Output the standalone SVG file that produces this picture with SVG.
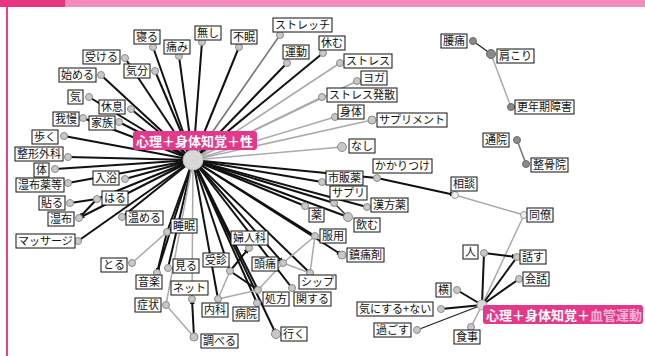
<svg xmlns="http://www.w3.org/2000/svg" width="645" height="356" viewBox="0 0 645 356">
<defs>
<marker id="ar" viewBox="0 0 6 6" refX="6" refY="3" markerWidth="2.6" markerHeight="2.6" orient="auto"><path d="M0,0 L6,3 L0,6 z" fill="#111"/></marker>
<style>
.k{stroke:#111;stroke-width:2;fill:none}
.kt{stroke:#222;stroke-width:1.3;fill:none}
.g{stroke:#aaa;stroke-width:1.5;fill:none}
.gd{stroke:#777;stroke-width:1.6;fill:none}
.c{fill:#c8c8c8;stroke:#8c8c8c;stroke-width:1}
.cd{fill:#8a8a8a;stroke:#6a6a6a;stroke-width:1}
.cw{fill:#eee;stroke:#999;stroke-width:1}
.b{fill:#fff;stroke:#111;stroke-width:1}
.t{font-family:"Noto Sans CJK JP","Noto Sans CJK SC",sans-serif;font-size:11px;fill:#111}
.h{font-family:"Noto Sans CJK JP","Noto Sans CJK SC",sans-serif;font-size:13px;font-weight:bold;fill:#fff}
</style>
</defs>
<rect x="0" y="0" width="645" height="356" fill="#fff"/>
<rect x="0" y="0" width="645" height="7" fill="#f28cbb"/>
<rect x="0" y="0" width="65" height="7" fill="#e8347f"/>
<rect x="6" y="7" width="2" height="349" fill="#e8408a"/>
<g id="connectors">
<line class="k" x1="193" y1="160" x2="153" y2="47"/>
<line class="k" x1="193" y1="160" x2="179" y2="56"/>
<line class="k" x1="193" y1="160" x2="202" y2="42"/>
<line class="k" x1="193" y1="160" x2="239" y2="47"/>
<line class="gd" x1="193" y1="160" x2="280" y2="35"/>
<line class="k" x1="193" y1="160" x2="287" y2="63"/>
<line class="k" x1="193" y1="160" x2="323" y2="53"/>
<line class="g" x1="193" y1="160" x2="340" y2="63"/>
<line class="g" x1="193" y1="160" x2="357" y2="81"/>
<line class="g" x1="193" y1="160" x2="322" y2="97"/>
<line class="g" x1="193" y1="160" x2="335" y2="117"/>
<line class="g" x1="193" y1="160" x2="372" y2="120"/>
<line class="g" x1="193" y1="160" x2="342" y2="147"/>
<line class="k" x1="193" y1="160" x2="125" y2="58"/>
<line class="k" x1="193" y1="160" x2="155" y2="71"/>
<line class="k" x1="193" y1="160" x2="101" y2="75"/>
<line class="k" x1="193" y1="160" x2="89" y2="97"/>
<line class="k" x1="193" y1="160" x2="131" y2="109"/>
<line class="k" x1="193" y1="160" x2="83" y2="118"/>
<line class="k" x1="193" y1="160" x2="119" y2="122"/>
<line class="k" x1="193" y1="160" x2="64" y2="136"/>
<line class="k" x1="193" y1="160" x2="68" y2="157"/>
<line class="k" x1="193" y1="160" x2="55" y2="169"/>
<line class="k" x1="193" y1="160" x2="68" y2="183"/>
<line class="k" x1="193" y1="160" x2="125" y2="179"/>
<line class="k" x1="193" y1="160" x2="97" y2="199"/>
<line class="k" x1="193" y1="160" x2="79" y2="218" marker-end="url(#ar)"/>
<line class="k" x1="193" y1="160" x2="122" y2="217"/>
<line class="k" x1="193" y1="160" x2="78" y2="241"/>
<line class="k" x1="193" y1="160" x2="167" y2="232"/>
<line class="k" x1="193" y1="160" x2="157" y2="273"/>
<line class="k" x1="193" y1="160" x2="168" y2="268"/>
<line class="g" x1="193" y1="160" x2="192" y2="299"/>
<line class="g" x1="193" y1="160" x2="166" y2="305"/>
<line class="k" x1="193" y1="160" x2="218" y2="299"/>
<line class="k" x1="193" y1="160" x2="257" y2="303"/>
<line class="k" x1="193" y1="160" x2="276" y2="334" marker-end="url(#ar)"/>
<line class="k" x1="193" y1="160" x2="258" y2="290"/>
<line class="k" x1="193" y1="160" x2="292" y2="288"/>
<line class="k" x1="193" y1="160" x2="283" y2="263" marker-end="url(#ar)"/>
<line class="k" x1="193" y1="160" x2="310" y2="273"/>
<line class="k" x1="193" y1="160" x2="230" y2="271"/>
<line class="k" x1="193" y1="160" x2="305" y2="206"/>
<line class="k" x1="193" y1="160" x2="342" y2="255" marker-end="url(#ar)"/>
<line class="k" x1="193" y1="160" x2="315" y2="236"/>
<line class="k" x1="193" y1="160" x2="348" y2="217"/>
<line class="k" x1="193" y1="160" x2="334" y2="203"/>
<line class="k" x1="193" y1="160" x2="367" y2="207"/>
<line class="k" x1="193" y1="160" x2="322" y2="182"/>
<line class="k" x1="193" y1="160" x2="377" y2="178"/>
<line class="k" x1="377" y1="178" x2="455" y2="195" marker-end="url(#ar)"/>
<line class="g" x1="455" y1="195" x2="524" y2="215"/>
<line class="g" x1="524" y1="215" x2="482" y2="305"/>
<line class="kt" x1="334" y1="203" x2="348" y2="217" marker-end="url(#ar)"/>
<line class="k" x1="70" y1="203" x2="97" y2="199"/>
<line class="k" x1="97" y1="199" x2="79" y2="218" marker-end="url(#ar)"/>
<line class="g" x1="132" y1="263" x2="167" y2="232"/>
<line class="k" x1="167" y1="232" x2="157" y2="273" marker-end="url(#ar)"/>
<line class="g" x1="166" y1="305" x2="194" y2="337"/>
<line class="k" x1="194" y1="337" x2="192" y2="299" marker-end="url(#ar)"/>
<line class="k" x1="230" y1="271" x2="249" y2="248" marker-end="url(#ar)"/>
<line class="g" x1="230" y1="271" x2="218" y2="299"/>
<line class="k" x1="230" y1="271" x2="258" y2="290" marker-end="url(#ar)"/>
<line class="g" x1="218" y1="299" x2="258" y2="290"/>
<line class="g" x1="258" y1="290" x2="283" y2="263"/>
<line class="g" x1="283" y1="263" x2="315" y2="236"/>
<line class="g" x1="283" y1="263" x2="310" y2="273"/>
<line class="g" x1="315" y1="236" x2="310" y2="273"/>
<line class="kt" x1="473" y1="41" x2="491" y2="54" marker-end="url(#ar)"/>
<line class="g" x1="491" y1="54" x2="511" y2="107"/>
<line class="gd" x1="517" y1="140" x2="526" y2="164"/>
<line class="k" x1="484" y1="253" x2="517" y2="257" marker-end="url(#ar)"/>
<line class="k" x1="484" y1="253" x2="482" y2="305" marker-end="url(#ar)"/>
<line class="k" x1="517" y1="257" x2="482" y2="305" marker-end="url(#ar)"/>
<line class="k" x1="519" y1="279" x2="482" y2="305" marker-end="url(#ar)"/>
<line class="k" x1="457" y1="290" x2="482" y2="305" marker-end="url(#ar)"/>
<line class="k" x1="441" y1="309" x2="482" y2="305" marker-end="url(#ar)"/>
<line class="kt" x1="417" y1="330" x2="482" y2="305"/>
<line class="g" x1="471" y1="327" x2="482" y2="305"/>
</g>
<g id="hub-sei"><circle cx="193" cy="160" r="10" fill="#d8d8d8" stroke="#bbb"/><rect x="133" y="131" width="124" height="19" rx="3" fill="#e5388a"/><text class="h" x="136" y="145.5">心理＋身体知覚＋性</text></g>
<g id="hub-kekkan"><circle cx="482" cy="305" r="5" fill="#d8d8d8" stroke="#aaa"/><rect x="483" y="305" width="160" height="19" rx="3" fill="#e5388a"/><text class="h" x="486" y="319.5">心理＋身体知覚＋<tspan fill="#f8b4d4">血管運動</tspan></text></g>
<g id="n1"><circle class="c" cx="153" cy="47" r="3.5"/><rect class="b" x="134" y="30" width="26" height="14"/><text class="t" x="136" y="41">寝る</text></g>
<g id="n2"><circle class="c" cx="179" cy="56" r="3.5"/><rect class="b" x="164" y="40" width="26" height="14"/><text class="t" x="166" y="51">痛み</text></g>
<g id="n3"><circle class="c" cx="202" cy="42" r="3.5"/><rect class="b" x="195" y="26" width="26" height="14"/><text class="t" x="197" y="37">無し</text></g>
<g id="n4"><circle class="c" cx="239" cy="47" r="3.5"/><rect class="b" x="231" y="30" width="26" height="14"/><text class="t" x="233" y="41">不眠</text></g>
<g id="n5"><circle class="c" cx="280" cy="35" r="3.5"/><rect class="b" x="273" y="18" width="59" height="14"/><text class="t" x="275" y="29">ストレッチ</text></g>
<g id="n6"><circle class="c" cx="287" cy="63" r="3.5"/><rect class="b" x="283" y="45" width="26" height="14"/><text class="t" x="285" y="56">運動</text></g>
<g id="n7"><circle class="c" cx="323" cy="53" r="3.5"/><rect class="b" x="319" y="36" width="26" height="14"/><text class="t" x="321" y="47">休む</text></g>
<g id="n8"><circle class="c" cx="340" cy="63" r="3.5"/><rect class="b" x="344" y="54" width="48" height="14"/><text class="t" x="346" y="65">ストレス</text></g>
<g id="n9"><circle class="c" cx="357" cy="81" r="3.5"/><rect class="b" x="361" y="71" width="26" height="14"/><text class="t" x="363" y="82">ヨガ</text></g>
<g id="n10"><circle class="c" cx="322" cy="97" r="3.5"/><rect class="b" x="327" y="88" width="70" height="14"/><text class="t" x="329" y="99">ストレス発散</text></g>
<g id="n11"><circle class="c" cx="335" cy="117" r="3.5"/><rect class="b" x="338" y="105" width="26" height="14"/><text class="t" x="340" y="116">身体</text></g>
<g id="n12"><circle class="c" cx="372" cy="120" r="4"/><rect class="b" x="377" y="113" width="70" height="14"/><text class="t" x="379" y="124">サプリメント</text></g>
<g id="n13"><circle class="c" cx="125" cy="58" r="3.5"/><rect class="b" x="83" y="50" width="37" height="14"/><text class="t" x="85" y="61">受ける</text></g>
<g id="n14"><circle class="c" cx="155" cy="71" r="3.5"/><rect class="b" x="124" y="64" width="26" height="14"/><text class="t" x="126" y="75">気分</text></g>
<g id="n15"><circle class="c" cx="101" cy="75" r="3.5"/><rect class="b" x="59" y="68" width="37" height="14"/><text class="t" x="61" y="79">始める</text></g>
<g id="n16"><circle class="c" cx="89" cy="97" r="3.5"/><rect class="b" x="68" y="90" width="15" height="14"/><text class="t" x="70" y="101">気</text></g>
<g id="n17"><circle class="c" cx="131" cy="109" r="3.5"/><rect class="b" x="99" y="100" width="26" height="14"/><text class="t" x="101" y="111">休息</text></g>
<g id="n18"><circle class="c" cx="83" cy="118" r="3.5"/><rect class="b" x="53" y="112" width="26" height="14"/><text class="t" x="55" y="123">我慢</text></g>
<g id="n19"><circle class="c" cx="119" cy="122" r="3.5"/><rect class="b" x="89" y="116" width="26" height="14"/><text class="t" x="91" y="127">家族</text></g>
<g id="n20"><circle class="c" cx="64" cy="136" r="3.5"/><rect class="b" x="32" y="130" width="26" height="14"/><text class="t" x="34" y="141">歩く</text></g>
<g id="n21"><circle class="c" cx="68" cy="157" r="3.5"/><rect class="b" x="15" y="147" width="48" height="14"/><text class="t" x="17" y="158">整形外科</text></g>
<g id="n22"><circle class="c" cx="55" cy="169" r="3.5"/><rect class="b" x="34" y="163" width="15" height="14"/><text class="t" x="36" y="174">体</text></g>
<g id="n23"><circle class="c" cx="68" cy="183" r="3.5"/><rect class="b" x="16" y="178" width="48" height="14"/><text class="t" x="18" y="189">湿布薬等</text></g>
<g id="n24"><circle class="c" cx="125" cy="179" r="3.5"/><rect class="b" x="93" y="171" width="26" height="14"/><text class="t" x="95" y="182">入浴</text></g>
<g id="n25"><circle class="c" cx="97" cy="199" r="3.5"/><rect class="b" x="102" y="191" width="26" height="14"/><text class="t" x="104" y="202">はる</text></g>
<g id="n26"><circle class="c" cx="70" cy="203" r="3.5"/><rect class="b" x="39" y="196" width="26" height="14"/><text class="t" x="41" y="207">貼る</text></g>
<g id="n27"><circle class="c" cx="79" cy="218" r="3.5"/><rect class="b" x="48" y="212" width="26" height="14"/><text class="t" x="50" y="223">湿布</text></g>
<g id="n28"><circle class="c" cx="122" cy="217" r="3.5"/><rect class="b" x="126" y="211" width="37" height="14"/><text class="t" x="128" y="222">温める</text></g>
<g id="n29"><circle class="c" cx="167" cy="232" r="3.5"/><rect class="b" x="171" y="219" width="26" height="14"/><text class="t" x="173" y="230">睡眠</text></g>
<g id="n30"><circle class="c" cx="78" cy="241" r="3.5"/><rect class="b" x="16" y="234" width="59" height="14"/><text class="t" x="18" y="245">マッサージ</text></g>
<g id="n31"><circle class="c" cx="132" cy="263" r="3.5"/><rect class="b" x="101" y="258" width="26" height="14"/><text class="t" x="103" y="269">とる</text></g>
<g id="n32"><circle class="c" cx="157" cy="273" r="3.5"/><rect class="b" x="136" y="275" width="26" height="14"/><text class="t" x="138" y="286">音楽</text></g>
<g id="n33"><circle class="c" cx="168" cy="268" r="3.5"/><rect class="b" x="173" y="259" width="26" height="14"/><text class="t" x="175" y="270">見る</text></g>
<g id="n34"><circle class="c" cx="192" cy="299" r="3.5"/><rect class="b" x="171" y="281" width="37" height="14"/><text class="t" x="173" y="292">ネット</text></g>
<g id="n35"><circle class="c" cx="166" cy="305" r="3.5"/><rect class="b" x="135" y="298" width="26" height="14"/><text class="t" x="137" y="309">症状</text></g>
<g id="n36"><circle class="c" cx="194" cy="337" r="4"/><rect class="b" x="201" y="334" width="37" height="14"/><text class="t" x="203" y="345">調べる</text></g>
<g id="n37"><circle class="c" cx="230" cy="271" r="3.5"/><rect class="b" x="203" y="253" width="26" height="14"/><text class="t" x="205" y="264">受診</text></g>
<g id="n38"><circle class="c" cx="218" cy="299" r="3.5"/><rect class="b" x="202" y="303" width="26" height="14"/><text class="t" x="204" y="314">内科</text></g>
<g id="n39"><circle class="c" cx="249" cy="248" r="3.5"/><rect class="b" x="231" y="231" width="37" height="14"/><text class="t" x="233" y="242">婦人科</text></g>
<g id="n40"><circle class="c" cx="283" cy="263" r="3.5"/><rect class="b" x="252" y="257" width="26" height="14"/><text class="t" x="254" y="268">頭痛</text></g>
<g id="n41"><circle class="c" cx="257" cy="303" r="3.5"/><rect class="b" x="233" y="307" width="26" height="14"/><text class="t" x="235" y="318">病院</text></g>
<g id="n42"><circle class="c" cx="258" cy="290" r="3.5"/><rect class="b" x="263" y="292" width="26" height="14"/><text class="t" x="265" y="303">処方</text></g>
<g id="n43"><circle class="c" cx="292" cy="288" r="3.5"/><rect class="b" x="294" y="292" width="37" height="14"/><text class="t" x="296" y="303">関する</text></g>
<g id="n44"><circle class="c" cx="276" cy="334" r="4.5"/><rect class="b" x="281" y="327" width="26" height="14"/><text class="t" x="283" y="338">行く</text></g>
<g id="n45"><circle class="c" cx="310" cy="273" r="3.5"/><rect class="b" x="299" y="275" width="37" height="14"/><text class="t" x="301" y="286">シップ</text></g>
<g id="n46"><circle class="c" cx="315" cy="236" r="3.5"/><rect class="b" x="320" y="229" width="26" height="14"/><text class="t" x="322" y="240">服用</text></g>
<g id="n47"><circle class="c" cx="342" cy="255" r="4"/><rect class="b" x="347" y="248" width="37" height="14"/><text class="t" x="349" y="259">鎮痛剤</text></g>
<g id="n48"><circle class="c" cx="305" cy="206" r="3.5"/><rect class="b" x="309" y="208" width="15" height="14"/><text class="t" x="311" y="219">薬</text></g>
<g id="n49"><circle class="c" cx="348" cy="217" r="4.5"/><rect class="b" x="354" y="218" width="26" height="14"/><text class="t" x="356" y="229">飲む</text></g>
<g id="n50"><circle class="c" cx="334" cy="203" r="3.5"/><rect class="b" x="330" y="186" width="37" height="14"/><text class="t" x="332" y="197">サプリ</text></g>
<g id="n51"><circle class="c" cx="367" cy="207" r="3.5"/><rect class="b" x="371" y="198" width="37" height="14"/><text class="t" x="373" y="209">漢方薬</text></g>
<g id="n52"><circle class="c" cx="322" cy="182" r="3.5"/><rect class="b" x="326" y="171" width="37" height="14"/><text class="t" x="328" y="182">市販薬</text></g>
<g id="n53"><circle class="c" cx="377" cy="178" r="3.5"/><rect class="b" x="373" y="159" width="59" height="14"/><text class="t" x="375" y="170">かかりつけ</text></g>
<g id="n54"><circle class="c" cx="342" cy="147" r="4.5"/><rect class="b" x="349" y="139" width="26" height="14"/><text class="t" x="351" y="150">なし</text></g>
<g id="n55"><circle class="cw" cx="455" cy="195" r="3.5"/><rect class="b" x="451" y="177" width="26" height="14"/><text class="t" x="453" y="188">相談</text></g>
<g id="n56"><circle class="cw" cx="524" cy="215" r="3.5"/><rect class="b" x="527" y="208" width="26" height="14"/><text class="t" x="529" y="219">同僚</text></g>
<g id="n57"><circle class="cd" cx="473" cy="41" r="3.5"/><rect class="b" x="441" y="34" width="26" height="14"/><text class="t" x="443" y="45">腰痛</text></g>
<g id="n58"><circle class="cd" cx="491" cy="54" r="4.5"/><rect class="b" x="497" y="49" width="37" height="14"/><text class="t" x="499" y="60">肩こり</text></g>
<g id="n59"><circle class="cd" cx="511" cy="107" r="3.5"/><rect class="b" x="515" y="100" width="59" height="14"/><text class="t" x="517" y="111">更年期障害</text></g>
<g id="n60"><circle class="cd" cx="517" cy="140" r="3.5"/><rect class="b" x="483" y="133" width="26" height="14"/><text class="t" x="485" y="144">通院</text></g>
<g id="n61"><circle class="cd" cx="526" cy="164" r="3.5"/><rect class="b" x="531" y="158" width="37" height="14"/><text class="t" x="533" y="169">整骨院</text></g>
<g id="n62"><circle class="c" cx="484" cy="253" r="3.5"/><rect class="b" x="463" y="245" width="15" height="14"/><text class="t" x="465" y="256">人</text></g>
<g id="n63"><circle class="c" cx="517" cy="257" r="3.5"/><rect class="b" x="520" y="250" width="26" height="14"/><text class="t" x="522" y="261">話す</text></g>
<g id="n64"><circle class="c" cx="519" cy="279" r="3.5"/><rect class="b" x="523" y="272" width="26" height="14"/><text class="t" x="525" y="283">会話</text></g>
<g id="n65"><circle class="c" cx="457" cy="290" r="3.5"/><rect class="b" x="436" y="283" width="15" height="14"/><text class="t" x="438" y="294">横</text></g>
<g id="n66"><circle class="c" cx="441" cy="309" r="3.5"/><rect class="b" x="357" y="302" width="76" height="14"/><text class="t" x="359" y="313">気にする+ない</text></g>
<g id="n67"><circle class="c" cx="417" cy="330" r="3.5"/><rect class="b" x="374" y="323" width="37" height="14"/><text class="t" x="376" y="334">過ごす</text></g>
<g id="n68"><circle class="c" cx="471" cy="327" r="3.5"/><rect class="b" x="454" y="330" width="26" height="14"/><text class="t" x="456" y="341">食事</text></g>
</svg>
